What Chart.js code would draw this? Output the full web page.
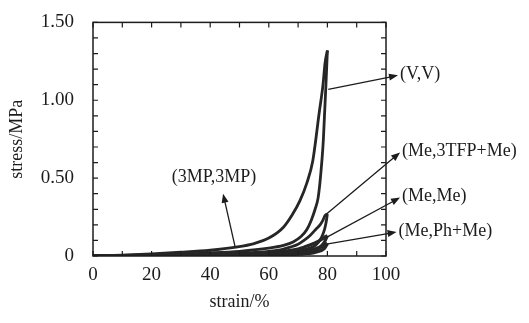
<!DOCTYPE html>
<html>
<head>
<meta charset="utf-8">
<script src="https://cdn.jsdelivr.net/npm/chart.js@4/dist/chart.umd.min.js"></script>
<style>
  html, body { margin: 0; padding: 0; background: #fff; }
  canvas { display: block; }
</style>
</head>
<body>
<canvas id="stressChart" width="529" height="323"></canvas>
<script>
// ---- Data ----
const xTicks = [0, 20, 40, 60, 80, 100];
const yTicks = [0, 0.5, 1.0, 1.5];

// outer curve, (3MP,3MP)
const strain3MP = [0, 10, 20, 30, 40, 48.8, 55, 60, 65, 68, 70.6, 73, 75, 77.2, 78.5, 79.2, 80];
const stress3MP = [0, 0.006, 0.014, 0.024, 0.037, 0.057, 0.08, 0.115, 0.185, 0.265, 0.354, 0.47, 0.61, 0.92, 1.1, 1.24, 1.32];

// steep inner curve, (V,V)
const strainVV = [0, 20, 40, 50, 60, 65, 68.3, 71, 73, 74.6, 75.8, 76.8, 77.4, 77.8, 78.2, 78.6, 79, 79.5, 80];
const stressVV = [0, 0.008, 0.02, 0.03, 0.05, 0.068, 0.09, 0.125, 0.17, 0.235, 0.3, 0.37, 0.46, 0.54, 0.63, 0.74, 0.9, 1.1, 1.32];

// (Me,3TFP+Me) loading / return
const strainTFPup = [0, 20, 40, 50, 60, 65, 70, 72, 74, 76, 77.5, 78.5, 79.2, 80];
const stressTFPup = [0, 0.005, 0.012, 0.018, 0.03, 0.045, 0.075, 0.1, 0.13, 0.17, 0.2, 0.23, 0.26, 0.27];
const strainTFPdn = [0, 30, 50, 65, 72, 76, 78, 79, 79.5, 80];
const stressTFPdn = [0, 0.004, 0.01, 0.02, 0.04, 0.07, 0.12, 0.17, 0.21, 0.27];

// (Me,Me)
const strainMeUp = [0, 40, 60, 70, 74, 77, 79, 80];
const stressMeUp = [0, 0.008, 0.02, 0.045, 0.07, 0.095, 0.12, 0.13];
const strainMeDn = [0, 40, 65, 74, 77, 79, 80];
const stressMeDn = [0, 0.005, 0.015, 0.03, 0.05, 0.09, 0.13];

// (Me,Ph+Me)
const strainPhUp = [0, 40, 60, 70, 75, 78, 80];
const stressPhUp = [0, 0.005, 0.012, 0.025, 0.04, 0.06, 0.08];
const strainPhDn = [0, 50, 70, 76, 79, 80];
const stressPhDn = [0, 0.004, 0.012, 0.025, 0.05, 0.08];

// labels: text, arrow tail (on curve) and arrow tip, in data units
const labelText = ["(V,V)", "(Me,3TFP+Me)", "(Me,Me)", "(Me,Ph+Me)", "(3MP,3MP)"];
const labelFrom = [[80.3, 1.07], [79.7, 0.27], [79.7, 0.12], [79.7, 0.076], [48.5, 0.059]];
const labelTo   = [[104.1, 1.16], [104.8, 0.665], [104.8, 0.375], [103.6, 0.154], [44.4, 0.40]];

// ---- Helpers ----
const INK = "#1c1c1c";
const LINE = "#262626";
const FONT = '"Liberation Serif", "Times New Roman", serif';

function pts(xs, ys) {
  return xs.map((x, i) => ({ x: x, y: ys[i] }));
}

function curve(xs, ys, w) {
  return {
    data: pts(xs, ys),
    showLine: true,
    borderColor: LINE,
    borderWidth: w || 2.8,
    pointRadius: 0,
    fill: false,
    cubicInterpolationMode: "monotone"
  };
}

// frame, inward ticks, arrows with labels
const decor = {
  id: "decor",
  afterDraw(chart) {
    const c = chart.ctx;
    const a = chart.chartArea;
    const xs = chart.scales.x, ys = chart.scales.y;
    c.save();
    c.strokeStyle = INK;
    c.lineWidth = 1.5;
    c.strokeRect(a.left, a.top, a.right - a.left, a.bottom - a.top);

    c.lineWidth = 1.2;
    c.beginPath();
    for (let v = 0; v <= 100.01; v += 10) {
      const px = xs.getPixelForValue(v);
      c.moveTo(px, a.top); c.lineTo(px, a.top + 5);
      c.moveTo(px, a.bottom); c.lineTo(px, a.bottom - 5);
    }
    for (let v = 0; v <= 1.501; v += 0.1) {
      const py = ys.getPixelForValue(v);
      c.moveTo(a.left, py); c.lineTo(a.left + 5, py);
      c.moveTo(a.right, py); c.lineTo(a.right - 5, py);
    }
    c.stroke();

    c.font = "18px " + FONT;
    c.fillStyle = INK;
    c.textBaseline = "middle";
    labelText.forEach((t, i) => {
      const x0 = xs.getPixelForValue(labelFrom[i][0]);
      const y0 = ys.getPixelForValue(labelFrom[i][1]);
      const x1 = xs.getPixelForValue(labelTo[i][0]);
      const y1 = ys.getPixelForValue(labelTo[i][1]);
      const ang = Math.atan2(y1 - y0, x1 - x0);
      c.lineWidth = 1.3;
      c.beginPath();
      c.moveTo(x0, y0);
      c.lineTo(x1 - 6 * Math.cos(ang), y1 - 6 * Math.sin(ang));
      c.stroke();
      c.beginPath();
      c.moveTo(x1, y1);
      c.lineTo(x1 - 9 * Math.cos(ang) + 3.5 * Math.sin(ang), y1 - 9 * Math.sin(ang) - 3.5 * Math.cos(ang));
      c.lineTo(x1 - 9 * Math.cos(ang) - 3.5 * Math.sin(ang), y1 - 9 * Math.sin(ang) + 3.5 * Math.cos(ang));
      c.closePath();
      c.fill();
      if (i === 4) {
        c.textAlign = "center";
        c.fillText(t, x1 - 9, y1 - 16);
      } else {
        c.textAlign = "left";
        c.fillText(t, x1 + 2, y1 - 1);
      }
    });
    c.restore();
  }
};

// ---- Chart ----
const ctx = document.getElementById("stressChart").getContext("2d");

new Chart(ctx, {
  type: "scatter",
  data: {
    datasets: [
      curve(strain3MP, stress3MP),
      curve(strainVV, stressVV),
      curve(strainTFPup, stressTFPup),
      curve(strainTFPdn, stressTFPdn),
      curve(strainMeUp, stressMeUp, 3.2),
      curve(strainMeDn, stressMeDn, 3.2),
      curve(strainPhUp, stressPhUp, 3.4),
      curve(strainPhDn, stressPhDn, 3.4)
    ]
  },
  options: {
    responsive: false,
    animation: false,
    layout: { padding: { left: 0, top: 19, right: 143, bottom: 0 } },
    plugins: { legend: { display: false }, tooltip: { enabled: false } },
    scales: {
      x: {
        type: "linear",
        min: 0,
        max: 100,
        afterBuildTicks: s => { s.ticks = xTicks.map(v => ({ value: v })); },
        afterFit: s => { s.height = 67; },
        grid: { display: false },
        border: { display: false },
        ticks: { color: INK, font: { family: FONT, size: 19 }, padding: 0, maxRotation: 0 },
        title: { display: true, text: "strain/%", color: INK, font: { family: FONT, size: 18 }, padding: { bottom: 10 } }
      },
      y: {
        type: "linear",
        min: 0,
        max: 1.5,
        afterBuildTicks: s => { s.ticks = yTicks.map(v => ({ value: v })); },
        afterFit: s => { s.width = 93; },
        grid: { display: false },
        border: { display: false },
        ticks: {
          color: INK,
          font: { family: FONT, size: 19 },
          padding: 11,
          callback: v => (v === 0 ? "0" : v.toFixed(2))
        },
        title: { display: true, text: "stress/MPa", color: INK, font: { family: FONT, size: 18 }, padding: { top: 6 } }
      }
    }
  },
  plugins: [decor]
});
</script>
</body>
</html>
